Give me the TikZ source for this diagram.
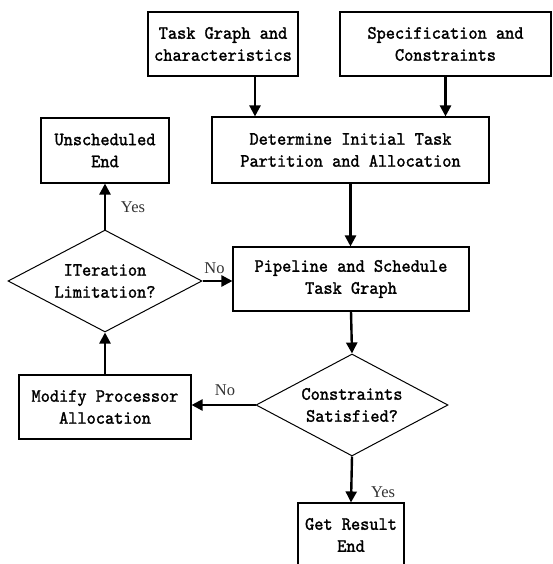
\documentclass[tikz,border=0pt]{standalone}
\usepackage{fontspec}
\newfontfamily\boxfont{lmmono10-regular}[Extension=.otf, FakeBold=1.5, FakeStretch=0.93]
\newfontfamily\lblfont{Liberation Serif}
\usetikzlibrary{shapes.geometric, arrows.meta}
\tikzset{
  box/.style={draw=black, line width=1.1pt, rectangle, align=center, inner sep=0pt,
    font=\boxfont\fontsize{18.8}{22}\selectfont},
  dia/.style={draw=black, line width=1.0pt, diamond, align=center, inner sep=0pt, shape aspect=1.9,
    font=\boxfont\fontsize{18.8}{22}\selectfont},
  arr/.style={line width=2.4pt, -{Triangle[length=11pt,width=11pt]}},
  lbl/.style={font=\lblfont\fontsize{16.5}{18}\selectfont, text=black!80, inner sep=0pt}
}
\begin{document}
\begin{tikzpicture}[x=1pt,y=-1pt]
\useasboundingbox (0,0) rectangle (552,564);
\fill[white] (0,0) rectangle (552,564);
\clip (0,0) rectangle (552,564);
\node[box, minimum width=150pt, minimum height=64pt] (task) at (223,44) {Task Graph and\\characteristics};
\node[box, minimum width=211pt, minimum height=64pt] (spec) at (445.5,44) {Specification and\\Constraints};
\node[box, minimum width=277pt, minimum height=66pt] (det) at (350.5,150) {Determine Initial Task\\Partition and Allocation};
\node[box, minimum width=128pt, minimum height=65pt] (unsch) at (105,150.5) {Unscheduled\\End};
\node[dia, minimum width=194pt, minimum height=102pt] (iter) at (105,281) {ITeration\\Limitation?};
\node[box, minimum width=236pt, minimum height=64pt] (pipe) at (351,279) {Pipeline and Schedule\\Task Graph};
\node[dia, minimum width=192pt, minimum height=102pt] (cons) at (352,405) {Constraints\\Satisfied?};
\node[box, minimum width=172pt, minimum height=64pt] (mod) at (105,407) {Modify Processor\\Allocation};
\node[box, minimum width=106pt, minimum height=64pt] (res) at (351,535) {Get Result\\End};

\draw[arr] ([xshift=32pt]task.south) -- ([xshift=32pt]task.south |- det.north);
\draw[arr] (spec.south) -- (spec.south |- det.north);
\draw[arr] (det.south) -- (det.south |- pipe.north);
\draw[arr] (pipe.south) -- (cons.north);
\draw[arr] (cons.west) -- (cons.west -| mod.east);
\draw[arr] (mod.north) -- (iter.south);
\draw[arr] (iter.north) -- (unsch.south);
\draw[arr] (iter.east) -- (iter.east -| pipe.west);
\draw[arr] (cons.south) -- (res.north);

\node[lbl] (y1) at (133,207) {Yes};
\node[lbl] (n1) at (214.5,268) {No};
\node[lbl] (n2) at (225,390) {No};
\node[lbl] (y2) at (383,492) {Yes};
\end{tikzpicture}
\end{document}
